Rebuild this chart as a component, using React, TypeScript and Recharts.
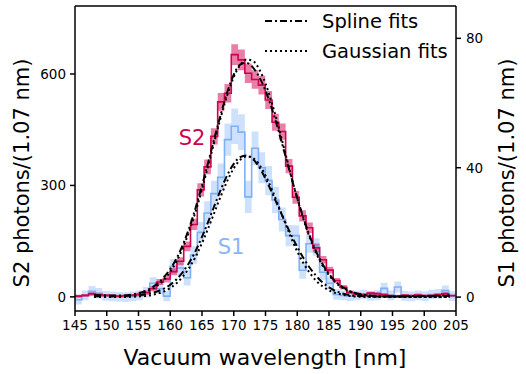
import { ComposedChart, Line, Area, XAxis, YAxis, ReferenceLine } from "recharts";

// histogram binning (1.07 nm bins starting at 145 nm)
const BIN_START = 145;
const BIN_WIDTH = 1.07;

const s2Counts = [
  2, 4, 8, 6, 4, 3, 2, 3, 4, 6, 12, 22, 40, 48, 68, 96, 136, 195, 288, 350,
  432, 525, 548, 652, 638, 602, 585, 570, 530, 470, 445, 352, 268, 218, 186, 132, 100, 72, 44, 26,
  12, 8, 6, 10, 8, 6, 3, 2, 4, 3, 5, 3, 4, 6, 8, 3,
];
const s2Err = [
  4, 4, 5, 5, 4, 4, 4, 4, 4, 5, 6, 7, 8, 9, 10, 11, 13, 15, 18, 20,
  22, 24, 25, 28, 28, 26, 25, 25, 24, 23, 22, 19, 17, 15, 14, 12, 10, 9, 7, 6,
  5, 4, 4, 4, 5, 4, 4, 4, 4, 4, 4, 4, 4, 4, 5, 4,
];
const s1Counts = [
  -0.8, 0.5, 1.8, 1.2, 0.4, 0.2, 0.1, 0, 0.2, 0.5, 1.5, 4.3, 2.6, 0.3, 9.5, 9, 6, 13, 20, 26,
  32, 37, 48.7, 52.8, 51, 31, 46, 40, 36, 30, 24, 19, 19, 8.3, 16.5, 15.5, 7.7, 4.3, 0.8, 0.5,
  0.3, 0.5, 0.8, 0.4, 0.6, 2.7, 0.5, 3.1, 0.4, 0.2, 0.5, 0.3, 0.8, 1, 2, 0.3,
];
const s1Err = [
  1.5, 1.5, 1.6, 1.6, 1.5, 1.5, 1.5, 1.5, 1.5, 1.5, 1.6, 1.8, 1.7, 1.6, 2.3, 2.3, 2.4, 2.7, 3.2, 3.6,
  4, 4.3, 5, 5.5, 5.5, 5, 5.2, 4.8, 4.5, 4.1, 3.7, 3.3, 3.2, 2.6, 2.8, 2.7, 2.3, 1.9, 1.6, 1.5,
  1.5, 1.5, 1.5, 1.5, 1.5, 1.7, 1.5, 1.7, 1.5, 1.5, 1.5, 1.5, 1.5, 1.5, 1.6, 1.5,
];

// fit curves sampled in nm
const fitX = [
  148, 150, 152, 154, 155, 156, 157, 158, 159, 160, 161, 162, 163, 164, 165, 166, 167, 168, 169, 170,
  171, 172, 173, 174, 175, 176, 177, 178, 179, 180, 181, 182, 183, 184, 185, 186, 187, 188, 189, 190,
  192, 194, 196, 198, 200, 202, 204,
];
const s2Spline = [
  5, 4, 3.5, 6.5, 10, 15.5, 24, 36, 53, 75, 104, 141, 186, 240, 300, 364, 430, 494, 552, 598,
  625, 630, 618, 592, 555, 507, 450, 388, 326, 266, 211, 162, 121, 88, 62, 42, 28, 18, 11, 7,
  3, 1.5, 1, 1, 1.5, 2, 3,
];
const s2Gauss = [
  0.1, 0.4, 1.4, 4.4, 7.5, 12.3, 19.7, 30.6, 46.2, 67.5, 95.9, 132.2, 177, 229.9, 289.9, 354.8, 421.6, 486.2, 544.3, 591.6,
  624.1, 639.1, 635.3, 613.1, 574.3, 522.2, 460.9, 394.9, 328.4, 265.2, 207.8, 158.1, 116.7, 83.6, 58.2, 39.3, 25.8, 16.4, 10.1, 6.1,
  2, 0.6, 0.2, 0, 0, 0, 0,
];
const s1Spline = [
  0.3, 0.2, 0.3, 0.5, 0.6, 0.8, 1.2, 1.8, 2.6, 3.8, 5.5, 7.8, 10.7, 14.3, 18.6, 23.4, 28.5, 33.4, 37.8, 41.2,
  43.3, 43.8, 42.7, 40.2, 36.6, 32.4, 28, 23.6, 19.4, 15.5, 12, 9, 6.5, 4.5, 3, 1.9, 1.2, 0.7, 0.4, 0.3,
  0.2, 0.2, 0.2, 0.3, 0.3, 0.4, 0.5,
];
const s1Gauss = [
  0, 0, 0, 0.1, 0.2, 0.3, 0.6, 1.1, 1.7, 2.8, 4.3, 6.4, 9.1, 12.5, 16.7, 21.4, 26.4, 31.4, 36, 39.8,
  42.4, 43.5, 43, 41, 37.6, 33.3, 28.4, 23.4, 18.5, 14.1, 10.4, 7.4, 5, 3.3, 2.1, 1.3, 0.8, 0.4, 0.2, 0.1,
  0, 0, 0, 0, 0, 0, 0,
];

const xTicks = [145, 150, 155, 160, 165, 170, 175, 180, 185, 190, 195, 200, 205];
const s2Ticks = [0, 300, 600];
const s1Ticks = [0, 40, 80];

const S2_COLOR = "#d0004f";
const S1_COLOR = "#7eb0f6";
const FONT = "DejaVu Sans";

// step rows at bin edges, last edge repeats the last bin
const histRows = s2Counts.map((v, i) => ({
  x: BIN_START + i * BIN_WIDTH,
  s2: v,
  s2Band: [v - s2Err[i], v + s2Err[i]],
  s1: s1Counts[i],
  s1Band: [s1Counts[i] - s1Err[i], s1Counts[i] + s1Err[i]],
}));
const last = s2Counts.length - 1;
histRows.push({ ...histRows[last], x: BIN_START + s2Counts.length * BIN_WIDTH });

const curve = (ys: number[]) => fitX.map((x, i) => ({ x, y: ys[i] }));

const tickStyle = { fontFamily: FONT, fontSize: 13.5, fill: "#000" };
const axisStroke = { stroke: "#000", strokeWidth: 1.5 };

export default function App() {
  return (
    <div style={{ position: "absolute", left: 0, top: 0, width: 526, height: 374, background: "#fff" }}>
      <ComposedChart
        width={526}
        height={374}
        data={histRows}
        margin={{ top: 6, right: 0, bottom: 0, left: 0 }}
      >
        <XAxis
          dataKey="x"
          type="number"
          domain={[145, 205]}
          ticks={xTicks}
          allowDataOverflow
          height={63}
          tickSize={5}
          tickMargin={4}
          tick={tickStyle}
          axisLine={axisStroke}
          tickLine={axisStroke}
        />
        <YAxis
          yAxisId="s2"
          orientation="left"
          type="number"
          domain={[-38, 783]}
          ticks={s2Ticks}
          allowDataOverflow
          width={75}
          tickSize={5}
          tickMargin={4}
          tick={tickStyle}
          axisLine={axisStroke}
          tickLine={axisStroke}
        />
        <YAxis
          yAxisId="s1"
          orientation="right"
          type="number"
          domain={[-4.3, 90]}
          ticks={s1Ticks}
          allowDataOverflow
          width={70}
          tickSize={5}
          tickMargin={5}
          tick={tickStyle}
          axisLine={axisStroke}
          tickLine={axisStroke}
        />
        <ReferenceLine yAxisId="s2" y={783} stroke="#000" strokeWidth={1.5} />

        <Area
          yAxisId="s1"
          type="stepAfter"
          dataKey="s1Band"
          stroke="none"
          fill="#a6c8fa"
          fillOpacity={0.55}
          isAnimationActive={false}
        />
        <Area
          yAxisId="s2"
          type="stepAfter"
          dataKey="s2Band"
          stroke="none"
          fill={S2_COLOR}
          fillOpacity={0.5}
          isAnimationActive={false}
        />
        <Line
          yAxisId="s1"
          type="stepAfter"
          dataKey="s1"
          stroke={S1_COLOR}
          strokeWidth={1.6}
          dot={false}
          isAnimationActive={false}
        />
        <Line
          yAxisId="s2"
          type="stepAfter"
          dataKey="s2"
          stroke={S2_COLOR}
          strokeWidth={1.6}
          dot={false}
          isAnimationActive={false}
        />

        <Line yAxisId="s2" data={curve(s2Gauss)} dataKey="y" type="monotone" stroke="#000" strokeWidth={2} strokeDasharray="2 3" dot={false} isAnimationActive={false} />
        <Line yAxisId="s1" data={curve(s1Gauss)} dataKey="y" type="monotone" stroke="#000" strokeWidth={2} strokeDasharray="2 3" dot={false} isAnimationActive={false} />
        <Line yAxisId="s2" data={curve(s2Spline)} dataKey="y" type="monotone" stroke="#000" strokeWidth={2} strokeDasharray="7 3 2 3" dot={false} isAnimationActive={false} />
        <Line yAxisId="s1" data={curve(s1Spline)} dataKey="y" type="monotone" stroke="#000" strokeWidth={2} strokeDasharray="7 3 2 3" dot={false} isAnimationActive={false} />
      </ComposedChart>

      <svg
        width={526}
        height={374}
        style={{ position: "absolute", left: 0, top: 0, pointerEvents: "none" }}
        fontFamily={FONT}
      >
        <text x={265} y={357} fontSize={22} textAnchor="middle" dominantBaseline="central">
          Vacuum wavelength [nm]
        </text>
        <text x={22} y={173} fontSize={21} textAnchor="middle" dominantBaseline="central" transform="rotate(-90 22 173)">
          S2 photons/(1.07 nm)
        </text>
        <text x={507} y={173} fontSize={21} textAnchor="middle" dominantBaseline="central" transform="rotate(-90 507 173)">
          S1 photons/(1.07 nm)
        </text>
        <text x={192} y={138} fontSize={21} fill={S2_COLOR} textAnchor="middle" dominantBaseline="central">
          S2
        </text>
        <text x={231} y={247} fontSize={21} fill="#8ab4f8" textAnchor="middle" dominantBaseline="central">
          S1
        </text>

        <line x1={265} y1={21} x2={307} y2={21} stroke="#000" strokeWidth={2} strokeDasharray="7 3 2 3" />
        <text x={322} y={21} fontSize={19.5} dominantBaseline="central">
          Spline fits
        </text>
        <line x1={265} y1={51} x2={307} y2={51} stroke="#000" strokeWidth={2} strokeDasharray="2 3" />
        <text x={322} y={51} fontSize={19.5} dominantBaseline="central">
          Gaussian fits
        </text>
      </svg>
    </div>
  );
}
